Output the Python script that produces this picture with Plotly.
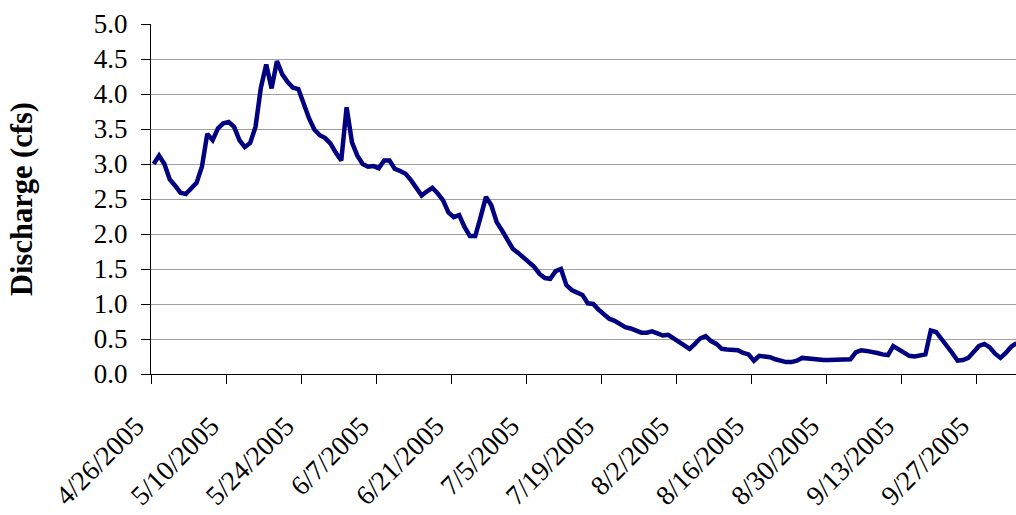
import pandas as pd
import plotly.graph_objects as go

start_date = "2005-04-26"
discharge_cfs = [
    3.00, 3.12, 3.00, 2.78, 2.69, 2.59, 2.57, 2.66, 2.73, 2.96,
    3.43, 3.34, 3.51, 3.58, 3.60, 3.53, 3.34, 3.24, 3.30, 3.53,
    4.09, 4.42, 4.08, 4.47, 4.28, 4.17, 4.09, 4.07, 3.85, 3.65,
    3.49, 3.41, 3.37, 3.29, 3.16, 3.05, 3.81, 3.31, 3.12, 3.00,
    2.96, 2.97, 2.94, 3.05, 3.05, 2.93, 2.90, 2.86, 2.77, 2.66,
    2.55, 2.61, 2.66, 2.58,
    2.48, 2.31, 2.24, 2.27, 2.10, 1.97, 1.97, 2.24, 2.53, 2.41,
    2.17, 2.05, 1.91, 1.79, 1.73, 1.67, 1.61, 1.53, 1.43, 1.37,
    1.36, 1.47, 1.50, 1.27, 1.20, 1.17, 1.13, 1.01, 1.00, 0.92,
    0.85, 0.79, 0.76, 0.72, 0.67, 0.65, 0.62, 0.59, 0.59, 0.61,
    0.58, 0.55, 0.56, 0.51, 0.46, 0.41, 0.36, 0.43, 0.51, 0.54,
    0.47, 0.43, 0.36, 0.35, 0.35, 0.34, 0.30, 0.28, 0.19, 0.26,
    0.25, 0.24, 0.21, 0.19, 0.17, 0.17, 0.19, 0.23, 0.22, 0.21,
    0.20, 0.20, 0.20, 0.20, 0.20, 0.20, 0.21, 0.31,
    0.34, 0.33, 0.32, 0.30, 0.28, 0.27, 0.40, 0.35, 0.30, 0.26,
    0.25, 0.27, 0.28, 0.62, 0.60, 0.50, 0.41, 0.30, 0.19, 0.20,
    0.23, 0.31, 0.40, 0.43, 0.38, 0.29, 0.23, 0.30, 0.39, 0.44,
]
y_tick_values = [0.0, 0.5, 1.0, 1.5, 2.0, 2.5, 3.0, 3.5, 4.0, 4.5, 5.0]

dates = pd.date_range(start_date, periods=len(discharge_cfs), freq="D")
# Excel-style date axis: points sit between tick marks (mid-day)
x_pos = dates + pd.Timedelta(hours=12)

FONT = "Liberation Serif, Times New Roman, serif"

fig = go.Figure()
fig.add_trace(go.Scatter(
    x=x_pos, y=discharge_cfs, mode="lines",
    line=dict(color="#000080", width=4.5),
    showlegend=False, hoverinfo="skip",
))

x_end = pd.Timestamp(start_date) + pd.Timedelta(days=161.4)

fig.update_layout(
    width=1016, height=515,
    margin=dict(l=151, r=0, t=24, b=141),
    paper_bgcolor="white", plot_bgcolor="white",
    font=dict(family=FONT, size=27, color="black"),
    xaxis=dict(
        type="date", automargin=False,
        range=[pd.Timestamp(start_date), x_end],
        tick0=start_date, dtick=14 * 86400000,
        tickformat="%-m/%-d/%Y", tickangle=-45,
        ticks="outside", ticklen=9, tickcolor="black", tickwidth=1,
        showline=True, linecolor="black", linewidth=1,
        showgrid=False, zeroline=False,
        tickfont=dict(family=FONT, size=27.5),
        ticklabelstandoff=15, ticklabelshift=-15,
    ),
    yaxis=dict(
        automargin=False,
        range=[0, 5], tickvals=y_tick_values, tickformat=".1f",
        ticks="outside", ticklen=9, tickcolor="black", tickwidth=1,
        showline=True, linecolor="black", linewidth=1,
        showgrid=True, gridcolor="#a0a0a0", gridwidth=1,
        zeroline=False,
        tickfont=dict(family=FONT, size=27),
        ticklabelstandoff=8,
        title=dict(text="<b>Discharge (cfs)</b>", font=dict(family=FONT, size=30.5), standoff=52),
    ),
)

fig.write_html(
    "out.html",
    config={"displayModeBar": False},
    post_script="document.body.style.margin='0';document.body.style.overflow='hidden';",
)
